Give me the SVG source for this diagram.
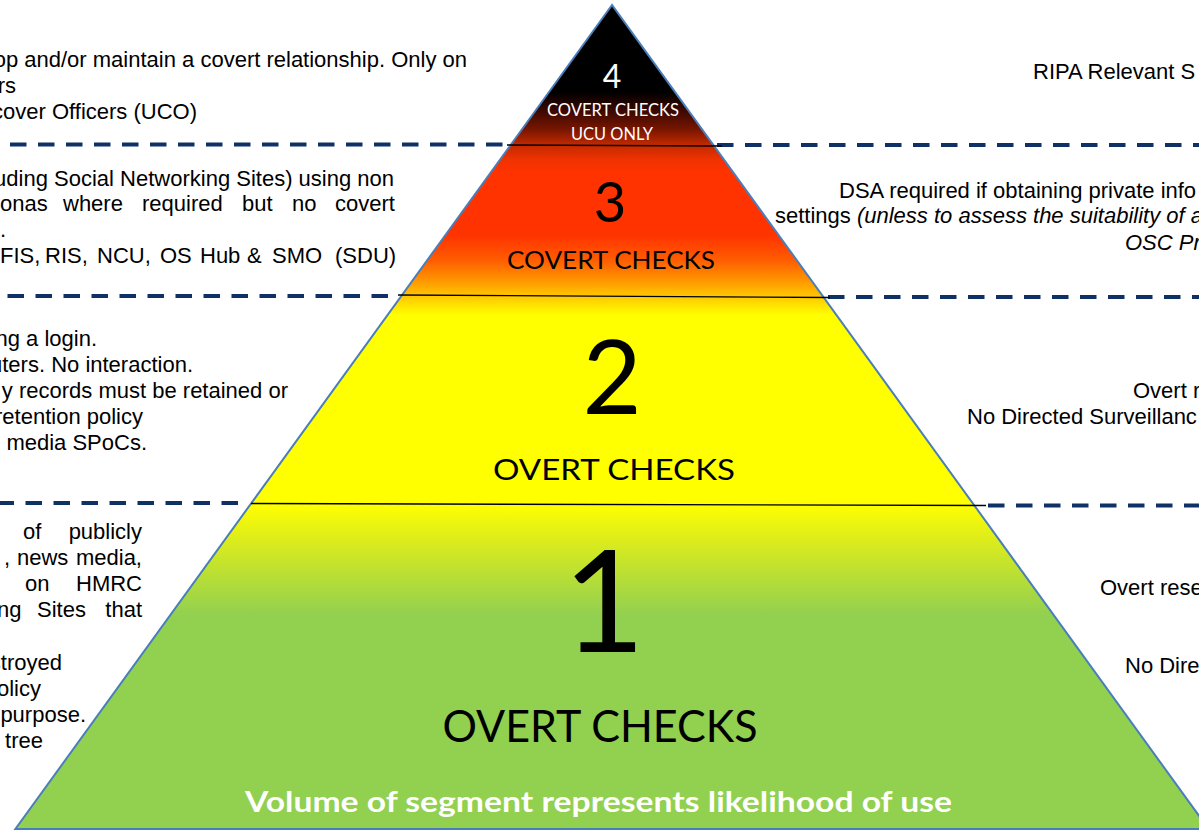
<svg xmlns="http://www.w3.org/2000/svg" width="1199" height="830" viewBox="0 0 1199 830">
  <defs>
    <!-- one vertical ramp shared by all four tiers so colours run on across the tier lines -->
    <linearGradient id="tierFill" gradientUnits="userSpaceOnUse" x1="0" y1="5" x2="0" y2="830">
      <stop offset="0" stop-color="#000000"/>
      <stop offset="0.1055" stop-color="#000000"/>
      <stop offset="0.127" stop-color="#380800"/>
      <stop offset="0.1515" stop-color="#7a1600"/>
      <stop offset="0.1697" stop-color="#c42a00"/>
      <stop offset="0.188" stop-color="#f03200"/>
      <stop offset="0.2024" stop-color="#ff3300"/>
      <stop offset="0.2788" stop-color="#ff3300"/>
      <stop offset="0.3091" stop-color="#ff5c00"/>
      <stop offset="0.3333" stop-color="#ff9400"/>
      <stop offset="0.3515" stop-color="#ffc400"/>
      <stop offset="0.3758" stop-color="#ffff00"/>
      <stop offset="0.6061" stop-color="#ffff00"/>
      <stop offset="0.6485" stop-color="#dcec1c"/>
      <stop offset="0.7394" stop-color="#92d050"/>
      <stop offset="1" stop-color="#92d050"/>
    </linearGradient>
    <style>
      .tier { fill: url(#tierFill); }
      .outline { fill: none; stroke: #4a7ebb; stroke-width: 2; stroke-linejoin: miter; }
      .split { stroke: #000000; stroke-width: 1.4; fill: none; }
      .divider { stroke: #0f3166; stroke-width: 4; stroke-dasharray: 16.5 11.5; fill: none; }
      .lbl { font-family: Lato, "Open Sans", sans-serif; text-anchor: middle; fill: #000000; }
      .lbl.w { fill: #ffffff; }
      .note { font-family: "Liberation Sans", Arial, sans-serif; font-size: 22px; fill: #000000; }
      .end { text-anchor: end; }
      .it { font-style: italic; }
    </style>
  </defs>

  <rect x="0" y="0" width="1199" height="830" fill="#ffffff"/>

  <!-- dashed dividers between the tiers, running out to both sides -->
  <g id="connectors">
    <line class="divider" x1="10" y1="144.5" x2="503" y2="144.5"/>
    <line class="divider" x1="717" y1="145" x2="1199" y2="145"/>
    <line class="divider" x1="7.5" y1="296" x2="395" y2="296"/>
    <line class="divider" x1="828" y1="297" x2="1199" y2="297"/>
    <line class="divider" x1="-2.5" y1="503" x2="240" y2="503"/>
    <line class="divider" x1="988" y1="505.5" x2="1199" y2="505.5"/>
  </g>

  <!-- tier 4 -->
  <g id="tier4">
    <polygon class="tier" points="612,5 510.6,145 713.4,145"/>
    <text class="lbl w" x="612" y="88" font-size="32">4</text>
    <text class="lbl w" x="613" y="116" font-size="17" textLength="132" lengthAdjust="spacingAndGlyphs">COVERT CHECKS</text>
    <text class="lbl w" x="612" y="140" font-size="17" textLength="82" lengthAdjust="spacingAndGlyphs">UCU ONLY</text>
  </g>

  <!-- tier 3 -->
  <g id="tier3">
    <polygon class="tier" points="510.6,145 713.4,145 822.7,296 401.3,296"/>
    <text class="lbl" x="610" y="222" font-size="56">3</text>
    <text class="lbl" x="611" y="269" font-size="24.7" textLength="208" lengthAdjust="spacingAndGlyphs">COVERT CHECKS</text>
  </g>

  <!-- tier 2 -->
  <g id="tier2">
    <polygon class="tier" points="401.3,296 822.7,296 973.3,504 250.7,504"/>
    <text class="lbl" x="612" y="414" font-size="102">2</text>
    <text class="lbl" x="614" y="480" font-size="29.3" textLength="242" lengthAdjust="spacingAndGlyphs">OVERT CHECKS</text>
  </g>

  <!-- tier 1 -->
  <g id="tier1">
    <polygon class="tier" points="250.7,504 973.3,504 1208.6,829 15.4,829"/>
    <text class="lbl" x="604" y="652" font-size="142">1</text>
    <text class="lbl" x="600" y="742" font-size="44.7" textLength="315" lengthAdjust="spacingAndGlyphs">OVERT CHECKS</text>
    <text class="lbl w" x="598.5" y="812" font-size="28" font-weight="bold" textLength="707" lengthAdjust="spacingAndGlyphs">Volume of segment represents likelihood of use</text>
  </g>

  <!-- pyramid outline and the thin tier lines -->
  <g id="frame">
    <polygon class="outline" points="612,5 15.4,829 1208.6,829"/>
    <line class="split" x1="507" y1="145" x2="722" y2="146"/>
    <line class="split" x1="398" y1="295" x2="830" y2="297.5"/>
    <line class="split" x1="251" y1="503.5" x2="986" y2="505.5"/>
  </g>

  <!-- notes on the left -->
  <g id="notes-left">
    <text class="note end" x="467" y="67">op and/or maintain a covert relationship. Only on</text>
    <text class="note end" x="16" y="93">rs</text>
    <text class="note end" x="197" y="119">cover Officers (UCO)</text>

    <text class="note end" x="394" y="186">uding Social Networking Sites) using non</text>
    <text class="note" y="211"><tspan x="0">onas</tspan><tspan x="63">where</tspan><tspan x="142">required</tspan><tspan x="242">but</tspan><tspan x="292">no</tspan><tspan x="335">covert</tspan></text>
    <text class="note" x="0" y="237">.</text>
    <text class="note" y="263"><tspan x="0">FIS,</tspan><tspan x="45">RIS,</tspan><tspan x="97">NCU,</tspan><tspan x="160">OS</tspan><tspan x="200">Hub</tspan><tspan x="247">&amp;</tspan><tspan x="272">SMO</tspan><tspan x="335">(SDU)</tspan></text>

    <text class="note end" x="97" y="346">ng a login.</text>
    <text class="note end" x="193" y="372">uters. No interaction.</text>
    <text class="note end" x="288" y="398">y records must be retained or</text>
    <text class="note end" x="143" y="424">retention policy</text>
    <text class="note end" x="147" y="450">l media SPoCs.</text>

    <text class="note" y="539"><tspan x="23">of</tspan><tspan x="142" text-anchor="end">publicly</tspan></text>
    <text class="note" y="565"><tspan x="4">,</tspan><tspan x="17">news</tspan><tspan x="142" text-anchor="end">media,</tspan></text>
    <text class="note" y="591"><tspan x="25">on</tspan><tspan x="142" text-anchor="end">HMRC</tspan></text>
    <text class="note" y="617"><tspan x="-3">ng</tspan><tspan x="37">Sites</tspan><tspan x="142" text-anchor="end">that</tspan></text>
    <text class="note end" x="62" y="670">stroyed</text>
    <text class="note end" x="41" y="696">olicy</text>
    <text class="note end" x="86" y="722">purpose.</text>
    <text class="note end" x="43" y="748">tree</text>
  </g>

  <!-- notes on the right -->
  <g id="notes-right">
    <text class="note" x="1033" y="79">RIPA Relevant S</text>
    <text class="note" x="839" y="198">DSA required if obtaining private info</text>
    <text class="note" x="775" y="223">settings <tspan class="it">(unless to assess the suitability of a</tspan></text>
    <text class="note it" x="1125" y="250">OSC Pr</text>
    <text class="note" x="1133" y="398">Overt r</text>
    <text class="note" x="967" y="424">No Directed Surveillanc</text>
    <text class="note" x="1100" y="595">Overt rese</text>
    <text class="note" x="1125" y="673">No Dire</text>
  </g>
</svg>
